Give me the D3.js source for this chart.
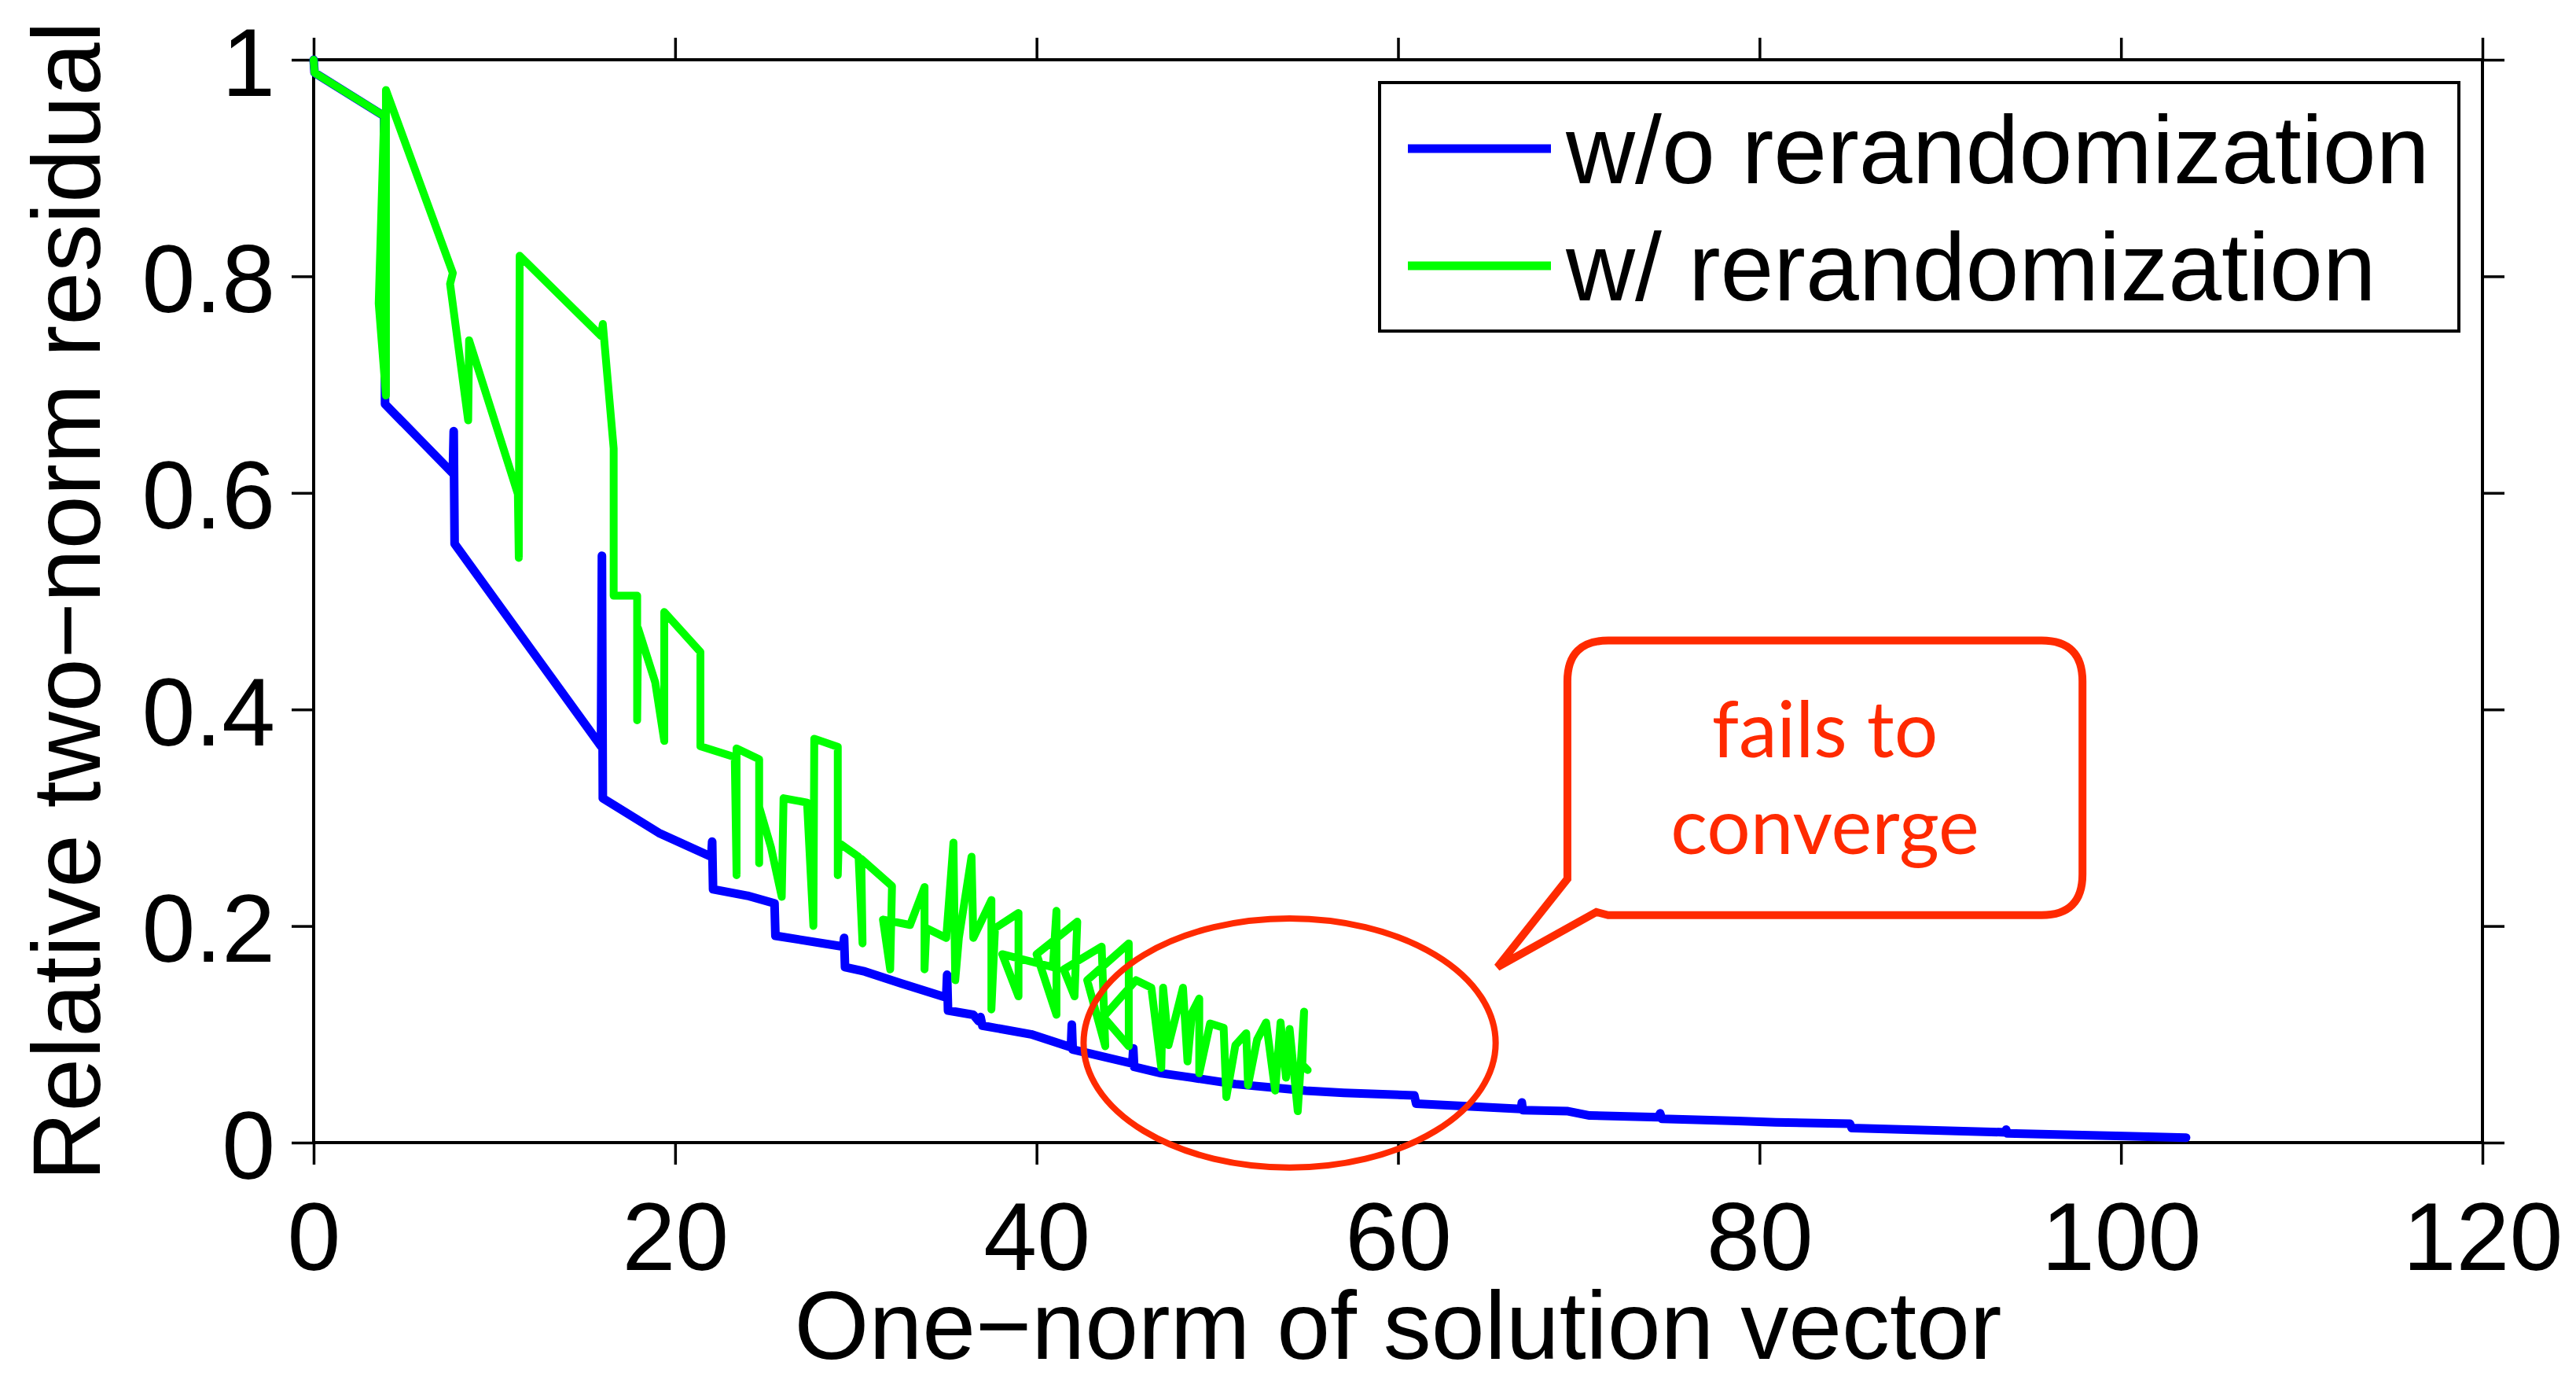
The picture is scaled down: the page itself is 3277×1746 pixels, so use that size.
<!DOCTYPE html>
<html><head><meta charset="utf-8">
<script src="https://cdn.jsdelivr.net/npm/d3@7"></script>
<style>body{margin:0;background:#fff}svg{display:block}</style>
</head><body>
<svg id="c" width="3277" height="1746"></svg>
<script>
// ---- data ----
const blueX = [0, 0.05, 3.9, 3.95, 7.7, 7.75, 7.8, 15.9, 15.95, 16.0, 19.1, 22.0, 22.05, 22.1, 24.0, 25.5, 25.55, 29.3, 29.35, 29.4, 30.5, 32.5, 35.0, 35.05, 35.1, 36.5, 36.8, 36.9, 37.0, 39.7, 41.9, 41.95, 42.0, 45.3, 45.35, 45.4, 46.9, 48.6, 51.0, 54.9, 57.0, 60.9, 61.0, 66.8, 66.85, 66.9, 69.4, 70.6, 74.4, 74.5, 74.6, 78.8, 80.9, 85.0, 85.1, 93.6, 93.65, 93.7, 100.2, 103.6];
const blueY = [1.0, 0.988, 0.948, 0.682, 0.618, 0.657, 0.553, 0.366, 0.542, 0.318, 0.286, 0.264, 0.278, 0.234, 0.228, 0.221, 0.191, 0.181, 0.189, 0.162, 0.158, 0.147, 0.134, 0.155, 0.122, 0.118, 0.112, 0.116, 0.108, 0.100, 0.088, 0.109, 0.086, 0.073, 0.087, 0.070, 0.064, 0.060, 0.054, 0.048, 0.046, 0.0436, 0.036, 0.031, 0.037, 0.030, 0.029, 0.025, 0.0235, 0.027, 0.022, 0.020, 0.0187, 0.0175, 0.0135, 0.0095, 0.012, 0.0085, 0.006, 0.0046];

const greenX = [0, 0.05, 3.9, 3.6, 4.0, 4.0, 7.7, 7.55, 8.55, 8.6, 11.3, 11.35, 11.4, 15.9, 16.0, 16.6, 16.6, 17.9, 17.9, 17.95, 18.9, 19.4, 19.4, 21.4, 21.4, 23.3, 23.4, 23.4, 24.65, 24.65, 24.65, 25.3, 25.9, 26.0, 27.3, 27.65, 27.7, 29.0, 29.0, 29.05, 30.15, 30.37, 30.3, 32.0, 31.9, 31.5, 33.0, 33.8, 33.8, 33.9, 35.0, 35.4, 35.5, 35.7, 36.4, 36.5, 37.5, 37.5, 37.7, 39.0, 39.0, 38.1, 40.9, 41.1, 41.1, 40.0, 42.25, 42.1, 41.5, 43.6, 43.8, 42.8, 45.1, 45.1, 43.7, 45.5, 46.35, 46.9, 47.0, 47.3, 48.1, 48.35, 48.6, 49.0, 49.0, 49.6, 50.35, 50.5, 51.0, 51.6, 51.7, 52.2, 52.7, 53.2, 53.5, 53.8, 54.0, 54.45, 54.8, 54.7, 55.0];
const greenY = [1.0, 0.988, 0.948, 0.775, 0.69, 0.972, 0.803, 0.793, 0.667, 0.741, 0.599, 0.54, 0.819, 0.745, 0.756, 0.641, 0.505, 0.505, 0.39, 0.475, 0.425, 0.371, 0.49, 0.453, 0.366, 0.356, 0.247, 0.364, 0.354, 0.258, 0.31, 0.273, 0.227, 0.318, 0.314, 0.20, 0.373, 0.3655, 0.247, 0.277, 0.264, 0.184, 0.262, 0.237, 0.16, 0.206, 0.201, 0.236, 0.16, 0.198, 0.189, 0.277, 0.15, 0.189, 0.264, 0.189, 0.224, 0.123, 0.198, 0.212, 0.135, 0.174, 0.162, 0.214, 0.118, 0.174, 0.204, 0.135, 0.16, 0.181, 0.089, 0.15, 0.184, 0.089, 0.116, 0.15, 0.143, 0.069, 0.143, 0.09, 0.143, 0.075, 0.12, 0.133, 0.064, 0.11, 0.106, 0.042, 0.09, 0.101, 0.053, 0.095, 0.111, 0.048, 0.111, 0.06, 0.105, 0.029, 0.121, 0.072, 0.067];

const xTicks = [0, 20, 40, 60, 80, 100, 120];
const xTickLabels = ["0", "20", "40", "60", "80", "100", "120"];
const yTicks = [0, 0.2, 0.4, 0.6, 0.8, 1];
const yTickLabels = ["0", "0.2", "0.4", "0.6", "0.8", "1"];
const seriesNames = ["w/o rerandomization", "w/ rerandomization"];
const seriesColors = ["#0000ff", "#00ff00"];
const xTitle = "One\u2212norm of solution vector";
const yTitle = "Relative two\u2212norm residual";
const calloutLines = ["fails to", "converge"];
// annotation geometry in data units
const ellipseC = [54.0, 0.092], ellipseR = [11.4, 0.115];
const calloutBox = [69.37, 97.87, 0.4637, 0.21]; // x0,x1,yTop,yBottom
const calloutTail = [[69.37, 0.2435], [65.5, 0.162], [70.97, 0.213]];

// ---- layout ----
const L = 399, R = 3158, T = 76, B = 1453;
const FONT = "'Liberation Sans', Arial, Helvetica, sans-serif";
const svg = d3.select("#c");
const x = d3.scaleLinear().domain([0, 120]).range([L, R]);
const y = d3.scaleLinear().domain([0, 1]).range([B, T]);

function styleAxis(g) {
  g.select(".domain").remove();
  g.selectAll(".tick line").attr("stroke", "#000").attr("stroke-width", 3.5);
  g.selectAll("text").attr("font-family", FONT).attr("font-size", 122).attr("fill", "#000");
}
svg.append("g").attr("transform", `translate(0,${B})`)
  .call(d3.axisBottom(x).tickValues(xTicks).tickSize(28).tickFormat((d, i) => xTickLabels[i]))
  .call(styleAxis)
  .call(g => g.selectAll("text").attr("y", 162).attr("dy", null));
svg.append("g").attr("transform", `translate(${L},0)`)
  .call(d3.axisLeft(y).tickValues(yTicks).tickSize(28).tickFormat((d, i) => yTickLabels[i]))
  .call(styleAxis)
  .call(g => g.selectAll("text").attr("x", -49).attr("dy", "0.37em"));
svg.append("g").attr("transform", `translate(0,${T})`)
  .call(d3.axisTop(x).tickValues(xTicks).tickSize(28).tickFormat(""))
  .call(styleAxis);
svg.append("g").attr("transform", `translate(${R},0)`)
  .call(d3.axisRight(y).tickValues(yTicks).tickSize(28).tickFormat(""))
  .call(styleAxis);

svg.append("rect").attr("x", L).attr("y", T).attr("width", R - L).attr("height", B - T)
  .attr("fill", "none").attr("stroke", "#000").attr("stroke-width", 4);

// ---- series ----
const line = d3.line().x(d => x(d[0])).y(d => y(d[1]));
const blue = blueX.map((v, i) => [v, blueY[i]]);
const green = greenX.map((v, i) => [v, greenY[i]]);
svg.append("path").attr("d", line(blue)).attr("fill", "none")
  .attr("stroke", seriesColors[0]).attr("stroke-width", 11)
  .attr("stroke-linejoin", "round").attr("stroke-linecap", "round");
svg.append("path").attr("d", line(green)).attr("fill", "none")
  .attr("stroke", seriesColors[1]).attr("stroke-width", 10)
  .attr("stroke-linejoin", "round").attr("stroke-linecap", "round");

// ---- titles ----
svg.append("text").attr("x", (L + R) / 2).attr("y", 1728).attr("text-anchor", "middle")
  .attr("font-family", FONT).attr("font-size", 122).text(xTitle);
svg.append("text").attr("transform", `translate(127,${(T + B) / 2}) rotate(-90)`)
  .attr("text-anchor", "middle").attr("font-family", FONT).attr("font-size", 122).text(yTitle);

// ---- legend ----
const lg = svg.append("g");
lg.append("rect").attr("x", 1755).attr("y", 105).attr("width", 1373).attr("height", 316)
  .attr("fill", "#fff").attr("stroke", "#000").attr("stroke-width", 4);
[[189, 233], [338, 382]].forEach(([ly, by], i) => {
  lg.append("line").attr("x1", 1791).attr("x2", 1973).attr("y1", ly).attr("y2", ly)
    .attr("stroke", seriesColors[i]).attr("stroke-width", 11);
  lg.append("text").attr("x", 1992).attr("y", by).attr("font-family", FONT)
    .attr("font-size", 122).text(seriesNames[i]);
});

// ---- annotations ----
const RED = "#ff2a00";
svg.append("ellipse").attr("cx", x(ellipseC[0])).attr("cy", y(ellipseC[1]))
  .attr("rx", x(ellipseR[0]) - x(0)).attr("ry", y(0) - y(ellipseR[1]))
  .attr("fill", "none").attr("stroke", RED).attr("stroke-width", 8);

const bx0 = x(calloutBox[0]), bx1 = x(calloutBox[1]), by0 = y(calloutBox[2]), by1 = y(calloutBox[3]);
const r = 52;
const tA = [x(calloutTail[0][0]), y(calloutTail[0][1])];
const tip = [x(calloutTail[1][0]), y(calloutTail[1][1])];
const tB = [x(calloutTail[2][0]), by1 - 4];
const p = d3.path();
p.moveTo(tA[0], tA[1]);
p.lineTo(bx0, by0 + r);
p.quadraticCurveTo(bx0, by0, bx0 + r, by0);
p.lineTo(bx1 - r, by0);
p.quadraticCurveTo(bx1, by0, bx1, by0 + r);
p.lineTo(bx1, by1 - r);
p.quadraticCurveTo(bx1, by1, bx1 - r, by1);
p.lineTo(tB[0] + 15, by1);
p.lineTo(tB[0], tB[1]);
p.lineTo(tip[0], tip[1]);
p.closePath();
svg.append("path").attr("d", p.toString()).attr("fill", "#fff")
  .attr("stroke", RED).attr("stroke-width", 10).attr("stroke-linejoin", "miter");

const cx = (bx0 + bx1) / 2;
[963, 1086].forEach((by, i) => {
  svg.append("text").attr("x", cx).attr("y", by).attr("text-anchor", "middle")
    .attr("font-family", "Lato, 'Open Sans', sans-serif").attr("font-size", 98)
    .attr("fill", RED).text(calloutLines[i]);
});
</script>
</body></html>
